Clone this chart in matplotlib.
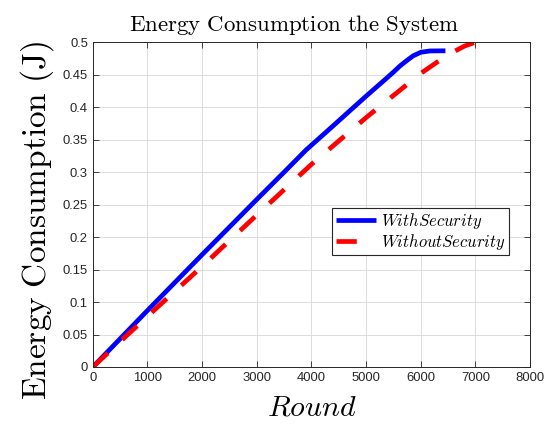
import matplotlib
matplotlib.use("Agg")
import matplotlib.pyplot as plt

# values
with_x = [0, 1000, 2000, 3000, 3500, 3900, 4300, 5000, 5380, 5500, 5620, 5740, 5860,
          6000, 6170, 6450]
with_y = [0, 0.087, 0.173, 0.258, 0.300, 0.334, 0.364, 0.417, 0.445, 0.454, 0.4635,
          0.4715, 0.479, 0.4845, 0.4865, 0.4867]
without_x = [0, 1000, 2000, 3000, 4000, 5000, 5500, 6000, 6500, 6800, 7000]
without_y = [0, 0.078, 0.155, 0.234, 0.312, 0.384, 0.418, 0.452, 0.481, 0.494, 0.5]

x_ticks = list(range(0, 8001, 1000))
y_ticks = [0, 0.05, 0.1, 0.15, 0.2, 0.25, 0.3, 0.35, 0.4, 0.45, 0.5]
y_tick_labels = ["0", "0.05", "0.1", "0.15", "0.2", "0.25", "0.3", "0.35", "0.4", "0.45", "0.5"]

plt.rcParams["mathtext.fontset"] = "cm"
plt.rcParams["font.family"] = ["Liberation Sans", "DejaVu Sans"]

fig = plt.figure(figsize=(5.46, 4.26), dpi=100)
ax = fig.add_axes([0.170, 0.1385, 0.801, 0.7625])

ax.plot(with_x, with_y, color="#0000ff", linewidth=3.4, solid_capstyle="butt",
        label=r"$WithSecurity$")
ax.plot(without_x, without_y, color="#ff0000", linewidth=3.4, dashes=(4.3, 4.2),
        dash_capstyle="butt", label=r"$WithoutSecurity$")

ax.set_xlim(0, 8000)
ax.set_ylim(0, 0.5)
ax.set_xticks(x_ticks)
ax.set_yticks(y_ticks)
ax.set_yticklabels(y_tick_labels)
ax.tick_params(direction="in", top=True, right=True, labelsize=9.4, colors="#262626",
               length=4, width=0.6)
ax.grid(True, color="#dcdcdc", linewidth=0.7)
for s in ax.spines.values():
    s.set_linewidth(0.7)
    s.set_color("#262626")

ax.set_title(r"$\mathrm{Energy\ Consumption\ the\ System}$", fontsize=16.5, pad=8, x=0.46)
ax.set_xlabel(r"$Round$", fontsize=21.5, labelpad=7)
ax.set_ylabel(r"$\mathrm{Energy\ Consumption\ (J)}$", fontsize=24)
ax.yaxis.set_label_coords(-0.085, 0.45)

leg = ax.legend(loc="center right", bbox_to_anchor=(0.951, 0.417), fontsize=12,
                fancybox=False, framealpha=1, edgecolor="#262626", handlelength=2.45,
                borderpad=0.2, labelspacing=0.05, handletextpad=0.25, borderaxespad=0)
leg.get_frame().set_linewidth(0.8)

fig.savefig("out.png", dpi=100)
